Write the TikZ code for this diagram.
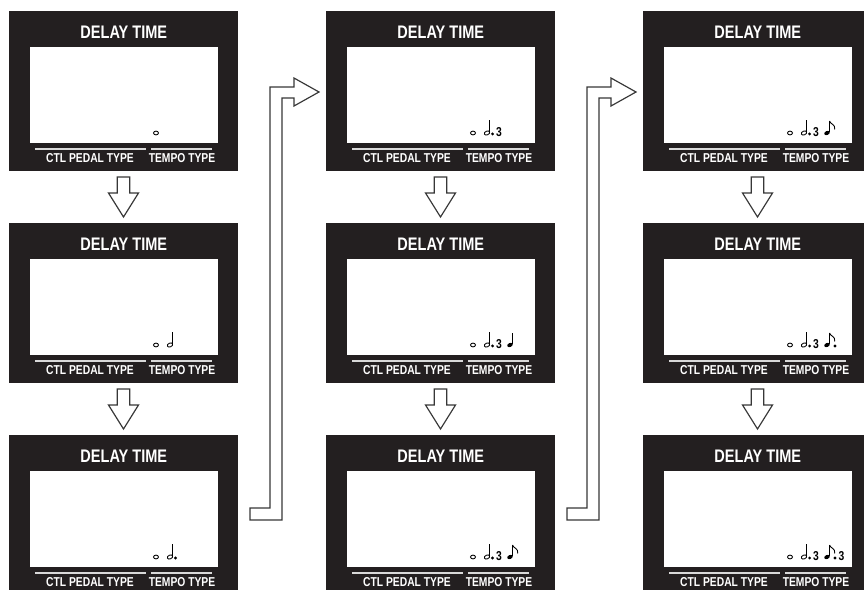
\documentclass[tikz,border=0pt]{standalone}
\usepackage{fontspec}
\usepackage{tikz}
\usetikzlibrary{positioning,calc}
\newfontfamily\lcdfont{Liberation Sans}[FakeStretch=0.8]
\definecolor{lcdblack}{RGB}{35,31,32}
\definecolor{arrowgrey}{RGB}{55,55,55}

% one lcd screen, drawn on top of a panel node (#1), glyphs in #2
\newcommand{\lcdface}[2]{%
  \begin{scope}[shift={(#1.north west)}, px]
    \fill[white] (21,35.7) rectangle (209,132);
    \node[lcdtitle] (#1-title) at (114.8,21.5) {DELAY TIME};
    \draw[lcdrule] (26,138) -- (137,138);
    \draw[lcdrule] (142,138) -- (203,138);
    \node[lcdtext] (#1-ctl) at (81,147.5) {CTL PEDAL TYPE};
    \node[lcdtext] (#1-tempo) at (173,147.5) {TEMPO TYPE};
    \draw[notepen] (147,122) ellipse (2.5 and 1.9);
    #2
  \end{scope}}
\newcommand{\halfnote}{%
  \draw[notepen, rotate around={25:(161,122)}] (161,122) ellipse (2.8 and 1.9);
  \draw[notepen] (163.5,121) -- (163.5,109);}
\newcommand{\dotA}{\fill (166.6,123) circle (1.6);}
\newcommand{\threeA}[1]{\node[lcdthree] (#1-tA) at (173,121) {3};}
\newcommand{\quarternote}{%
  \fill[rotate around={25:(184,122)}] (184,122) ellipse (2.9 and 2);
  \draw[notepen] (186.5,121) -- (186.5,110);}
\newcommand{\flag}{\draw[notepen] (186.5,110) .. controls (187.5,113.5) and (192.5,113) .. (191.8,118.5);}
\newcommand{\dotB}{\fill (192,123) circle (1.6);}
\newcommand{\threeB}[1]{\node[lcdthree] (#1-tB) at (198.6,121) {3};}

% block arrow between two panels of one column
\newcommand{\stepdown}[2]{%
  \begin{scope}[shift={(#1.south)}, px]
    \draw[blockarrow] (-6.3,6) -- (6.3,6) -- (6.3,22) -- (15,22)
      -- ($(#2.north)+(0,-6)$) -- (-15,22) -- (-6.3,22) -- cycle;
  \end{scope}}
% bent block arrow from the foot of one column to the top of the next
\newcommand{\stepover}[2]{%
  \begin{scope}[shift={(#1.north west)}, px]
    \draw[blockarrow] (241,73) -- (261,73) -- (261,-348) -- (285,-348) -- (285,-357)
      -- ($(#2.west)+(-7,1)$) -- (285,-329) -- (285,-337) -- (273,-337)
      -- (273,85) -- (241,85) -- cycle;
  \end{scope}}

\begin{document}
\begin{tikzpicture}[
    node distance=1.56cm and 2.64cm,
    px/.style={x=0.03cm, y=-0.03cm},
    panel/.style={rectangle, fill=lcdblack, minimum width=6.87cm, minimum height=4.8cm, inner sep=0pt, outer sep=0pt},
    lcdtitle/.style={text=white, inner sep=0pt, font=\lcdfont\bfseries\fontsize{15.5}{15.5}\selectfont},
    lcdtext/.style={text=white, inner sep=0pt, font=\lcdfont\bfseries\fontsize{11}{11}\selectfont},
    lcdthree/.style={inner sep=0pt, font=\lcdfont\bfseries\fontsize{11}{11}\selectfont},
    lcdrule/.style={draw=white!85!black, line width=0.9pt},
    notepen/.style={draw=black, line width=0.75pt},
    blockarrow/.style={draw=arrowgrey, fill=white, line width=1pt, line join=miter}
]
    \useasboundingbox (0,0) rectangle (25.92,-17.7);
    \clip (0,0) rectangle (25.92,-17.7);

    \node[panel, anchor=north west] (p1) at (0.27,-0.33) {};
    \node[panel, below=of p1] (p2) {};
    \node[panel, below=of p2] (p3) {};
    \node[panel, right=of p1] (p4) {};
    \node[panel, below=of p4] (p5) {};
    \node[panel, below=of p5] (p6) {};
    \node[panel, right=of p4] (p7) {};
    \node[panel, below=of p7] (p8) {};
    \node[panel, below=of p8] (p9) {};

    \lcdface{p1}{}
    \lcdface{p2}{\halfnote}
    \lcdface{p3}{\halfnote\dotA}
    \lcdface{p4}{\halfnote\dotA\threeA{p4}}
    \lcdface{p5}{\halfnote\dotA\threeA{p5}\quarternote}
    \lcdface{p6}{\halfnote\dotA\threeA{p6}\quarternote\flag}
    \lcdface{p7}{\halfnote\dotA\threeA{p7}\quarternote\flag}
    \lcdface{p8}{\halfnote\dotA\threeA{p8}\quarternote\flag\dotB}
    \lcdface{p9}{\halfnote\dotA\threeA{p9}\quarternote\flag\dotB\threeB{p9}}

    \stepdown{p1}{p2}
    \stepdown{p2}{p3}
    \stepdown{p4}{p5}
    \stepdown{p5}{p6}
    \stepdown{p7}{p8}
    \stepdown{p8}{p9}
    \stepover{p3}{p4}
    \stepover{p6}{p7}
\end{tikzpicture}
\end{document}
